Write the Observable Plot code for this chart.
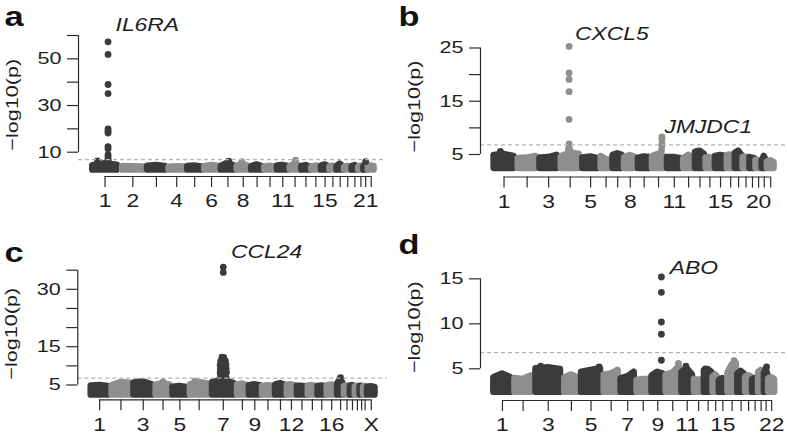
<!DOCTYPE html>
<html><head><meta charset="utf-8">
<script src="https://cdn.jsdelivr.net/npm/d3@7"></script>
<script src="https://cdn.jsdelivr.net/npm/@observablehq/plot@0.6"></script>
<style>
body{margin:0;background:#fff}
#fig{position:relative;width:788px;height:440px;overflow:hidden;background:#fff}
.panel{position:absolute}
</style></head><body><div id="fig"></div>
<script>
// ---------- data ----------
const autosomes = ["1","2","3","4","5","6","7","8","9","10","11","12","13","14","15","16","17","18","19","20","21","22"];
const withX = [...autosomes, "X"];
const THRESH = 6.8;       // genome-wide significance line, -log10(p)
const BASE = 2.4;         // lowest plotted -log10(p)

// panel a : IL6RA  (relative number of plotted SNPs per chromosome)
const aSizes = [30.2,25.3,21.7,18.8,17,16.7,16,14.5,13.2,12.6,12.8,11.7,10,9.8,8.6,7,7.5,7.6,6.7,5.3,4.2,6.8];
const aTops = [[4.2,5.0,4.4],[3.8,3.7,3.6],[3.9,4.2,3.8],[3.5,3.7,3.6],[3.8,4.0,3.6],[3.7,4.3,3.9],[3.9,5.2,4.0],[4.0,4.8,3.8],[3.8,4.5,3.7],[3.6,3.9,3.6],[4.0,4.3,3.8],[3.8,5.0,4.0],[3.8,4.2,3.6],[3.6,4.0,3.7],[4.0,4.5,3.8],[3.7,4.0,3.6],[3.9,4.8,3.8],[3.6,3.9,3.6],[3.8,4.2,3.7],[3.7,4.0,3.6],[3.8,4.4,3.8],[3.9,4.0,3.8]];
const aDots = [[1,0.6,57.3],[1,0.6,51.9],[1,0.6,39.0],[1,0.6,35.1],[1,0.6,20.0],[1,0.6,19.0],[1,0.6,18.2],[1,0.6,12.4],[1,0.6,11.5],[1,0.6,9.0],[1,0.6,8.0],[1,0.6,7.2],[1,0.6,6.5],[1,0.25,6.3],[7,0.55,6.2],[8,0.4,6.0],[12,0.55,6.6],[21,0.5,6.0]];
const aXLabels = ["1","2","4","6","8","11","15","21"];
const aYTicks = [10,20,30,40,50,60];
const aYLabels = [10,30,50];

// panel b : CXCL5, JMJDC1
const bSizes = [24.6,22,21.4,22,19.2,12,11.4,14,14,15,16.8,12,11,9,12.4,8,8,7,6,6.4,5,8];
const bTops = [[4.8,5.0,4.6],[4.2,4.3,4.6],[4.3,4.4,4.8],[4.6,5.2,5.0],[4.3,4.5,4.2],[4.6,4.0,3.9],[4.8,5.1,4.8],[4.4,4.8,4.4],[4.3,4.5,4.4],[4.6,5.0,4.6],[4.4,4.4,4.2],[4.2,4.8,4.3],[5.4,5.6,5.0],[4.3,4.4,4.2],[4.6,4.8,4.6],[4.8,4.9,4.6],[5.2,5.6,4.8],[4.4,4.5,4.3],[4.4,4.3,4.2],[3.9,3.8,3.6],[3.8,4.6,3.8],[3.6,3.8,3.5]];
const bDots = [[4,0.45,25.3],[4,0.45,20.3],[4,0.45,19.1],[4,0.45,16.8],[4,0.45,11.6],[4,0.45,7.0],[4,0.45,6.4],[4,0.42,6.0],[4,0.5,5.7],[10,0.73,8.3],[10,0.73,7.9],[10,0.73,7.0],[10,0.73,6.6],[10,0.7,5.8],[1,0.35,5.6]];
const bXLabels = ["1","3","5","8","11","15","20"];
const bYTicks = [5,10,15,20,25];
const bYLabels = [5,15,25];

// panel c : CCL24
const cSizes = [21,22,23,17,17,22,26.7,11.8,13.3,13.3,12,10.2,11,10,9,11,7,6,5,5,3.5,3.5,9];
const cTops = [[4.7,4.8,4.6],[4.8,5.6,5.4],[5.5,5.8,5.0],[5.0,5.3,5.0],[4.4,4.6,4.3],[5.0,5.6,5.2],[5.6,6.2,5.4],[5.0,5.2,4.8],[4.8,5.0,4.8],[4.6,4.8,4.6],[5.0,5.3,4.9],[4.9,5.0,4.7],[4.6,4.6,4.5],[4.7,4.8,4.6],[4.6,4.7,4.5],[4.8,5.0,4.8],[5.2,6.6,5.0],[4.6,4.7,4.5],[4.7,4.8,4.6],[4.5,4.6,4.5],[4.6,4.6,4.5],[4.5,4.6,4.4],[4.4,4.5,4.3]];
const cDots = [[7,0.5,35.8],[7,0.5,34.4],[7,0.45,12.3],[7,0.52,12.2],[7,0.48,11.6],[7,0.52,11.0],[7,0.46,10.5],[7,0.5,10.0],[7,0.46,9.4],[7,0.53,9.0],[7,0.45,8.5],[7,0.55,8.0],[7,0.42,7.5],[7,0.58,7.4],[7,0.5,7.0],[7,0.44,6.6],[7,0.56,6.4],
  [7,0.40,11.2],[7,0.58,11.3],[7,0.38,10.2],[7,0.6,10.4],[7,0.39,9.2],[7,0.61,9.3],[7,0.38,8.2],[7,0.62,8.3],[7,0.4,7.2],[7,0.6,7.0],[7,0.38,6.3],[7,0.62,6.2],
  [17,0.5,6.9],[6,0.3,6.0],[4,0.5,5.8]];
const cXLabels = ["1","3","5","7","9","12","16","X"];
const cYTicks = [5,10,15,20,25,30,35];
const cYLabels = [5,15,30];

// panel d : ABO
const dSizes = [21.2,20,30.2,16,23.2,17,16,15,14,16,12.8,10,9,6,8.4,10,8,7,6,6,4,7];
const dTops = [[4.0,4.4,4.0],[3.9,3.8,4.2],[5.0,5.1,4.9],[4.0,4.3,4.0],[4.6,4.8,5.0],[4.3,4.4,4.8],[3.9,4.1,4.6],[3.7,3.8,3.8],[4.2,4.6,4.4],[4.3,4.5,5.2],[4.6,5.0,4.3],[3.8,3.7,3.8],[4.8,4.9,4.6],[4.1,4.3,4.0],[3.7,3.9,3.7],[4.5,5.4,5.6],[4.4,4.7,4.4],[4.1,4.2,4.1],[3.8,3.9,3.8],[4.6,4.8,4.4],[4.5,4.9,4.3],[3.9,4.0,3.8]];
const dDots = [[9,0.76,15.2],[9,0.76,13.5],[9,0.76,10.2],[9,0.76,8.85],[9,0.76,5.95],[10,0.85,5.6],[16,0.7,5.9],[11,0.4,5.3],[5,0.85,5.2],[3,0.25,5.3],[13,0.2,5.0],[21,0.6,5.2]];
const dXLabels = ["1","3","5","7","9","11","15","22"];
const dYTicks = [5,10,15];
const dYLabels = [5,10,15];

// ---------- drawing ----------
const DARK = "#3b3b3b", LIGHT = "#8e8e8e", AX = "#2b2b2b", TXT = "#1e1e1e";
const R = 3.4;
const FONT = "'Liberation Sans', Arial, Helvetica, sans-serif";

function panel(cfg) {
  let s = 0;
  const chroms = cfg.sizes.map((w, i) => { const c = {i, name: cfg.names[i], start: s, w, mid: s + w / 2}; s += w; return c; });
  const T = s;
  const col = i => (i % 2 === 0 ? DARK : LIGHT);
  const mass = chroms.flatMap(c => cfg.tops[c.i].map((t, j, arr) => ({
    chr: c.i, x: c.start + c.w * (0.1 + 0.8 * j / (arr.length - 1)), y1: BASE, y2: t, fill: col(c.i)
  })));
  const pts = cfg.dots.map(([ci, f, v]) => ({x: chroms[ci - 1].start + f * chroms[ci - 1].w, y: v, fill: col(ci - 1)}));
  const mids = chroms.map(c => c.mid);
  const labelMap = new Map(chroms.filter(c => cfg.xLabels.includes(c.name)).map(c => [c.mid, c.name]));
  const xDom = [-0.04 * T, 1.04 * T];
  const geneDatum = g => { const c = chroms[g.chr - 1]; return {x: c.start + g.frac * c.w, y: g.y, text: g.name}; };
  const geneMark = g => Plot.text([geneDatum(g)], {x: "x", y: "y", text: "text", dx: g.dx, dy: g.dy, textAnchor: "start", lineAnchor: "bottom", fontStyle: "italic", fontSize: 18, fill: TXT});
  const m = cfg.margins;
  return Plot.plot({
    width: 394, height: 220,
    marginLeft: m[0], marginRight: m[1], marginTop: m[2], marginBottom: m[3],
    x: {domain: xDom, label: null},
    y: {domain: cfg.yDomain, label: null},
    color: {type: "identity"},
    style: {fontFamily: FONT, fontSize: "17px", color: TXT, background: "transparent", overflow: "visible"},
    marks: [
      Plot.area(mass, {x1: "x", y1: "y1", y2: "y2", z: "chr", fill: "fill", stroke: "fill", strokeWidth: 2 * R, strokeLinejoin: "round"}),
      Plot.dot(pts, {x: "x", y: "y", r: R, fill: "fill"}),
      Plot.ruleY([THRESH], {stroke: "#b4b4b4", strokeWidth: 1.1, strokeDasharray: "4,3"}),
      // x axis
      Plot.ruleY([cfg.yDomain[0]], {x1: mids[0], x2: mids[mids.length - 1], stroke: AX, strokeWidth: 1.2}),
      Plot.axisX(mids, {tickSize: 11, tickPadding: 7, stroke: AX, strokeWidth: 1.2, fill: TXT, fontSize: 18, label: null, tickFormat: d => labelMap.get(d) ?? ""}),
      // y axis
      Plot.ruleX([xDom[0]], {y1: cfg.yTicks[0], y2: cfg.yTicks[cfg.yTicks.length - 1], stroke: AX, strokeWidth: 1.2}),
      Plot.axisY(cfg.yTicks, {tickSize: 11, tickPadding: 6, stroke: AX, strokeWidth: 1.2, fill: TXT, fontSize: 17, label: null, tickFormat: d => cfg.yLabels.includes(d) ? String(d) : ""}),
      Plot.text(["\u2212log10(p)"], {frameAnchor: "left", dx: -66, rotate: -90, textAnchor: "middle", lineAnchor: "middle", fontSize: 17, fill: TXT}),
      // annotations
      ...cfg.genes.map(geneMark),
      Plot.text([cfg.letter], {frameAnchor: "top-left", dx: cfg.letterPos[0] - m[0], dy: cfg.letterPos[1] - m[2], textAnchor: "start", lineAnchor: "bottom", fontWeight: "bold", fontSize: 27, fill: "#111"})
    ]
  });
}

const panels = [
  {pos: [0, 0], names: autosomes, sizes: aSizes, tops: aTops, dots: aDots, xLabels: aXLabels, yTicks: aYTicks, yLabels: aYLabels,
   yDomain: [-0.41, 61.07], margins: [78, 8.5, 32.5, 44], letter: "a", letterPos: [4, 25],
   genes: [{name: "IL6RA", chr: 1, frac: 0.6, y: 57.3, dx: 7.5, dy: -11}]},
  {pos: [394, 0], names: autosomes, sizes: bSizes, tops: bTops, dots: bDots, xLabels: bXLabels, yTicks: bYTicks, yLabels: bYLabels,
   yDomain: [0.775, 27.25], margins: [86, 2.5, 35.5, 43.5], letter: "b", letterPos: [4, 25],
   genes: [{name: "CXCL5", chr: 4, frac: 0.45, y: 25.3, dx: 6, dy: -6}, {name: "JMJDC1", chr: 10, frac: 0.73, y: 8.3, dx: 2.5, dy: -4}]},
  {pos: [0, 220], names: withX, sizes: cSizes, tops: cTops, dots: cDots, xLabels: cXLabels, yTicks: cYTicks, yLabels: cYLabels,
   yDomain: [1.13, 35.62], margins: [77.3, 7.3, 47.3, 40.7], letter: "c", letterPos: [4, 41.7],
   genes: [{name: "CCL24", chr: 7, frac: 0.5, y: 35.8, dx: 7.7, dy: -9.3}]},
  {pos: [394, 220], names: autosomes, sizes: dSizes, tops: dTops, dots: dDots, xLabels: dXLabels, yTicks: dYTicks, yLabels: dYLabels,
   yDomain: [1.48, 17.78], margins: [86, 2, 33.3, 40], letter: "d", letterPos: [4, 33.3],
   genes: [{name: "ABO", chr: 9, frac: 0.76, y: 15.2, dx: 8.3, dy: -3.4}]}
];

const fig = document.getElementById("fig");
for (const p of panels) {
  const svg = panel(p);
  svg.classList.add("panel");
  svg.style.left = p.pos[0] + "px";
  svg.style.top = p.pos[1] + "px";
  fig.appendChild(svg);
}
// The original typeface is wider than Liberation Sans: widen the glyphs along the
// baseline, and re-anchor each label by hand so that it keeps its place.
const STRETCH = 1.27;
for (const t of fig.querySelectorAll("text")) {
  if (!t.textContent.trim() || t.querySelector("tspan")) continue;
  const anchor = getComputedStyle(t).textAnchor;
  const L1 = t.getComputedTextLength() * STRETCH;
  const xs = t.x.baseVal;
  const x0 = xs.numberOfItems ? xs.getItem(0).value : 0;
  const shift = anchor === "middle" ? -L1 / 2 : anchor === "end" ? -L1 : 0;
  t.setAttribute("x", (x0 + shift).toFixed(2));
  t.style.textAnchor = "start";
  t.setAttribute("textLength", L1.toFixed(2));
  t.setAttribute("lengthAdjust", "spacingAndGlyphs");
}
</script></body></html>
